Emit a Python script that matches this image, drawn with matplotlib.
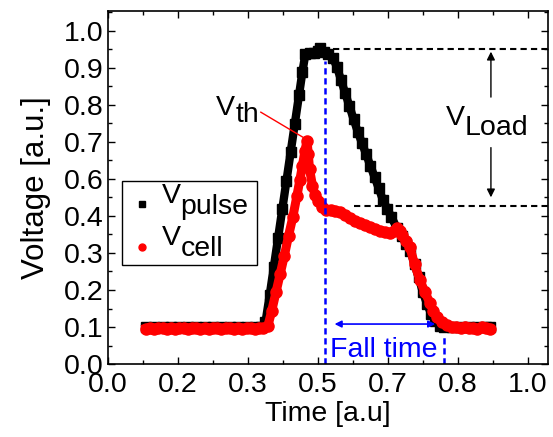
import numpy as np
import matplotlib
matplotlib.use('Agg')
import matplotlib.pyplot as plt
from matplotlib.patches import Rectangle
from matplotlib.ticker import MultipleLocator, FuncFormatter

plt.rcParams['font.family'] = ['Liberation Sans', 'DejaVu Sans']

# V_pulse (black squares)
t_pulse = [0.09, 0.11, 0.13, 0.15, 0.17, 0.19, 0.21, 0.23, 0.25, 0.27, 0.29, 0.31, 0.33, 0.35, 0.365,
           0.375, 0.385, 0.395, 0.405, 0.415, 0.425, 0.435, 0.445, 0.455, 0.463, 0.47,
           0.48, 0.49, 0.50, 0.505, 0.515, 0.525,
           0.535, 0.545, 0.555, 0.565, 0.575, 0.585, 0.595, 0.605, 0.615, 0.625, 0.635, 0.645,
           0.655, 0.665, 0.675, 0.688, 0.70, 0.71, 0.72, 0.73, 0.74, 0.75, 0.76, 0.77, 0.78,
           0.79, 0.80, 0.82, 0.84, 0.86, 0.88, 0.90, 0.91]
v_pulse = [0.110, 0.111, 0.110, 0.111, 0.110, 0.111, 0.110, 0.111, 0.110, 0.111, 0.110, 0.111, 0.110, 0.111, 0.112,
           0.125, 0.206, 0.292, 0.378, 0.464, 0.550, 0.636, 0.722, 0.808, 0.877, 0.930,
           0.935, 0.935, 0.940, 0.948, 0.938, 0.932,
           0.920, 0.893, 0.853, 0.813, 0.774, 0.735, 0.697, 0.663, 0.629, 0.595, 0.561, 0.527,
           0.492, 0.466, 0.441, 0.408, 0.385, 0.360, 0.340, 0.300, 0.260, 0.215, 0.180, 0.150, 0.130,
           0.115, 0.110, 0.110, 0.110, 0.111, 0.110, 0.110, 0.110]

# V_cell (red circles)
t_cell = [0.09, 0.10, 0.11, 0.12, 0.13, 0.14, 0.15, 0.16, 0.17, 0.18, 0.19, 0.20, 0.21, 0.22, 0.23,
          0.24, 0.25, 0.26, 0.27, 0.28, 0.29, 0.30, 0.31, 0.32, 0.33, 0.34, 0.35, 0.36, 0.37,
          0.381, 0.39, 0.40, 0.41, 0.42, 0.43, 0.44, 0.45, 0.457, 0.463, 0.469, 0.474,
          0.477, 0.480, 0.487, 0.493, 0.50, 0.51, 0.52, 0.53, 0.54, 0.552, 0.564, 0.576, 0.588,
          0.60, 0.612, 0.624, 0.636, 0.648, 0.66, 0.671, 0.68, 0.688, 0.695, 0.70, 0.71, 0.719,
          0.73, 0.743, 0.755, 0.767, 0.775, 0.783, 0.795, 0.807, 0.82, 0.83, 0.84, 0.85, 0.86,
          0.87, 0.88, 0.89, 0.90, 0.91]
v_cell = [0.106, 0.108, 0.105, 0.107, 0.109, 0.106, 0.108, 0.105, 0.107, 0.108, 0.106, 0.109, 0.107, 0.105, 0.108,
          0.106, 0.108, 0.107, 0.105, 0.108, 0.107, 0.106, 0.108, 0.105, 0.107, 0.108, 0.106, 0.107, 0.108,
          0.115, 0.160, 0.215, 0.270, 0.325, 0.385, 0.440, 0.505, 0.553, 0.595, 0.640, 0.670,
          0.630, 0.585, 0.535, 0.508, 0.490, 0.471, 0.463, 0.462, 0.460, 0.456, 0.446, 0.438, 0.430,
          0.424, 0.417, 0.410, 0.404, 0.399, 0.396, 0.393, 0.398, 0.408, 0.400, 0.387, 0.370, 0.351,
          0.300, 0.252, 0.215, 0.183, 0.160, 0.141, 0.125, 0.117, 0.112, 0.110, 0.108, 0.110, 0.107,
          0.109, 0.106, 0.110, 0.108, 0.106]

v_load_top = 0.946
v_load_bottom = 0.474
t_fall_start = 0.517
t_fall_end = 0.80

fs = 20.5

fig = plt.figure(figsize=(5.53, 4.37), dpi=100)
ax = fig.add_axes([0.1953, 0.167, 0.7957, 0.808])

ax.plot(t_pulse, v_pulse, '-s', color='black', ms=7, lw=6, solid_joinstyle='round')
ax.plot(t_cell, v_cell, '-o', color='red', ms=8, lw=6.5, solid_joinstyle='round')

ax.set_xlim(0, 1.048)
ax.set_ylim(0, 1.06)
ax.xaxis.set_major_locator(MultipleLocator(1 / 6))
ax.xaxis.set_minor_locator(MultipleLocator(1 / 12))
ax.yaxis.set_major_locator(MultipleLocator(1 / 9))
ax.yaxis.set_minor_locator(MultipleLocator(1 / 18))
fmt = FuncFormatter(lambda v, p: '{:.1f}'.format(v))
ax.xaxis.set_major_formatter(fmt)
ax.yaxis.set_major_formatter(fmt)
ax.tick_params(which='both', direction='in', top=True, right=True, labelsize=fs, width=1)
ax.tick_params(which='major', length=5)
ax.tick_params(which='minor', length=3)
ax.tick_params(axis='x', pad=6)
for s in ax.spines.values():
    s.set_linewidth(1.2)

ax.set_xlabel('Time [a.u]', fontsize=20.5, labelpad=2)
ax.set_ylabel('Voltage [a.u.]', fontsize=22.5, labelpad=9)

# V_Load guide lines and arrows
ax.plot([0.535, 1.048], [v_load_top, v_load_top], '--', color='black', lw=1.5, dashes=(3, 2))
ax.plot([0.585, 1.048], [v_load_bottom, v_load_bottom], '--', color='black', lw=1.5, dashes=(3, 2))
ax.annotate('', xy=(0.912, v_load_top), xytext=(0.912, 0.793),
            arrowprops=dict(arrowstyle='-|>', color='black', lw=1, mutation_scale=12))
ax.annotate('', xy=(0.912, 0.492), xytext=(0.912, 0.658),
            arrowprops=dict(arrowstyle='-|>', color='black', lw=1, mutation_scale=12))

# fall time
ax.plot([t_fall_start, t_fall_start], [0, 0.91], '--', color='blue', lw=1.8, dashes=(2.5, 1.5))
ax.plot([t_fall_end, t_fall_end], [0, 0.08], '--', color='blue', lw=1.8, dashes=(2.5, 1.5))
ax.annotate('', xy=(0.533, 0.12), xytext=(0.786, 0.12),
            arrowprops=dict(arrowstyle='<|-|>', color='blue', lw=1.2, mutation_scale=10))
ax.text(0.529, 0.021, 'Fall time', color='blue', fontsize=fs, ha='left', va='baseline')


def v_label(x, y, sub, drop, transform=None, color='black'):
    t = ax.text(x, y, 'V', fontsize=fs, color=color, ha='left', va='baseline',
                transform=transform or ax.transData)
    ax.annotate(sub, xy=(1, 0), xycoords=t, xytext=(0, -drop), textcoords='offset points',
                fontsize=fs, color=color, ha='left', va='bottom')


# V_th label with pointer line
ax.plot([0.364, 0.464], [0.756, 0.681], color='red', lw=1)
v_label(0.258, 0.748, 'th', 5)

# V_Load label
v_label(0.805, 0.718, 'Load', 7)

# legend drawn by hand
ax.add_patch(Rectangle((0.032, 0.28), 0.307, 0.238, transform=ax.transAxes,
                       fill=False, ec='black', lw=1))
ax.plot([0.077], [0.453], 's', color='black', ms=5, transform=ax.transAxes)
ax.plot([0.077], [0.331], 'o', color='red', ms=5, transform=ax.transAxes)
v_label(0.122, 0.456, 'pulse', 8, transform=ax.transAxes)
v_label(0.122, 0.337, 'cell', 8, transform=ax.transAxes)

fig.savefig('out.png', dpi=100)
